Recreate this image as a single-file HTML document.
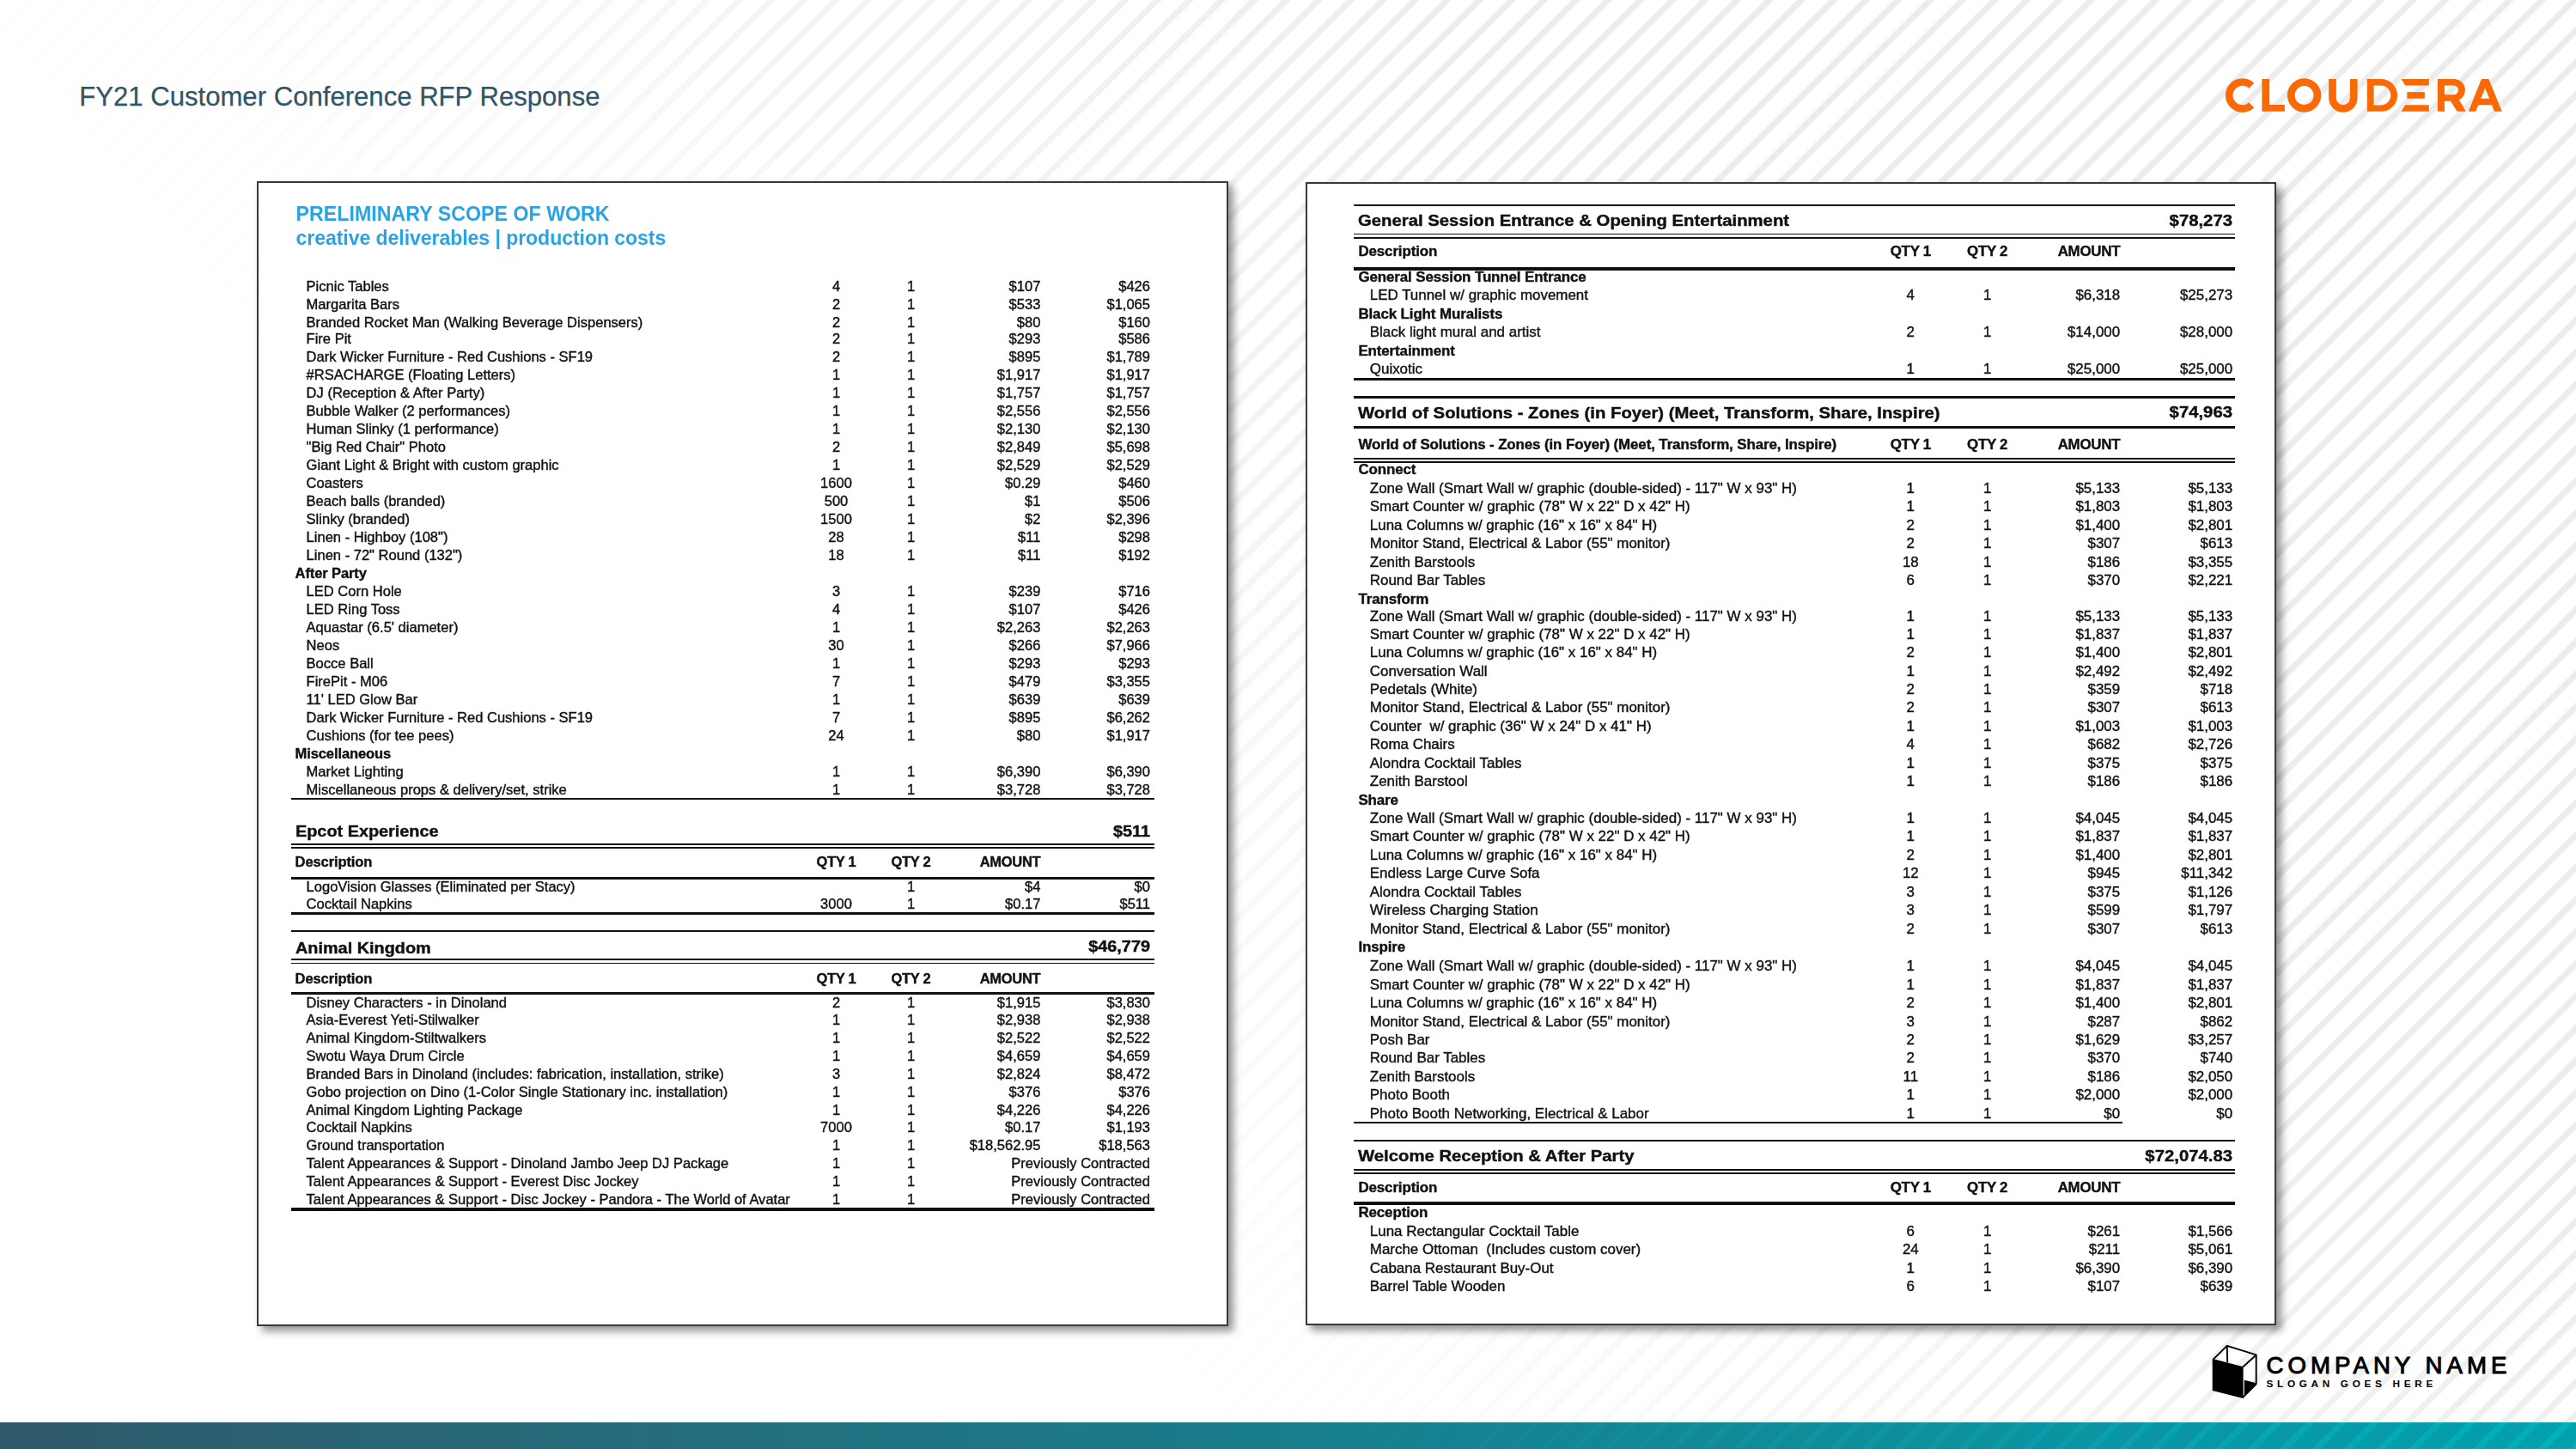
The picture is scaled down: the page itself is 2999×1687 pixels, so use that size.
<!DOCTYPE html>
<html><head><meta charset="utf-8"><title>FY21 Customer Conference RFP Response</title>
<style>
html,body{margin:0;padding:0;}
body{width:2999px;height:1687px;position:relative;overflow:hidden;background:#fff;font-family:"Liberation Sans",sans-serif;}
.stripes{position:absolute;left:0;top:0;width:2999px;height:1687px;
 background:repeating-linear-gradient(135deg,#ececec 0px,#ececec 1.5px,rgba(236,236,236,0) 3.3px,rgba(236,236,236,0) 20.9px,#ececec 22.7px,#ececec 26.503px);
 -webkit-mask-image:linear-gradient(48.4deg,transparent 31.5%,#000 72%);mask-image:linear-gradient(48.4deg,transparent 31.5%,#000 72%);}
.stripes.onbar{top:0;height:1687px;clip-path:inset(1656px 0 0 0);
 background:repeating-linear-gradient(135deg,rgba(0,255,255,.2) 0px,rgba(0,255,255,.2) 1.5px,rgba(0,255,255,0) 3.3px,rgba(0,255,255,0) 20.9px,rgba(0,255,255,.2) 22.7px,rgba(0,255,255,.2) 26.503px);}
.title{position:absolute;left:92.2px;top:94.6px;font-size:31.12px;line-height:36px;color:#2f5567;white-space:nowrap;-webkit-text-stroke:0.25px #2f5567;}
.bar{position:absolute;left:0;top:1656px;width:2999px;height:31px;background:linear-gradient(90deg,#305a6b 0%,#02a1ae 100%);}
.panel{position:absolute;background:#fff;border:2px solid #353944;box-shadow:6px 6px 9px rgba(0,0,0,.42);}
.inner{position:absolute;left:-2px;top:-2px;right:-2px;bottom:-2px;filter:blur(0.45px);}
.t{position:absolute;white-space:pre;color:#111;}
.pl .t{font-size:16.55px;line-height:21px;height:21px;}
.pr .t{font-size:16.95px;line-height:21.4px;height:21.4px;}
.t.r{width:400px;text-align:right;}
.t.c{width:200px;text-align:center;}
.t{-webkit-text-stroke:0.4px #111;}
.t.b{font-weight:700;letter-spacing:-0.12px;}
.t.b.c,.t.b.r{letter-spacing:-0.3px;}
.t.tt{font-weight:700;letter-spacing:0;transform:scaleX(1.128);transform-origin:0 50%;}
.t.tt.r{transform-origin:100% 50%;}
.pl .t.tt{font-size:17.6px;}
.pr .t.tt{font-size:18px;}
.ln{position:absolute;background:#111;}
.hd{position:absolute;font-weight:700;font-size:23.15px;line-height:26px;color:#2ba3e3;white-space:nowrap;letter-spacing:0.05px;}
</style></head>
<body>
<div class="stripes"></div>
<div class="title">FY21 Customer Conference RFP Response</div>
<svg style="position:absolute;left:2570px;top:70px" width="370" height="80" viewBox="0 0 2576 557">
<g fill="#f96a06">
<path d="M377.5 184.5 A138 138 0 1 0 377.5 386.5 L337 342.5 A78 78 0 1 1 337 228.5 Z"/>
<path d="M441.5 153 H502 V362.5 H625.5 V416.5 H441.5 Z"/>
<path fill-rule="evenodd" d="M784 148 A137 137 0 1 0 784.1 148 Z M784 208.5 A76.5 76.5 0 1 1 783.9 208.5 Z"/>
<path d="M982.5 153 H1043 V307 A56 56 0 0 0 1155 307 V153 H1215.5 V307 A116.5 116.5 0 0 1 982.5 307 Z"/>
<path fill-rule="evenodd" d="M1293.5 154 H1408 A131.25 131.25 0 0 1 1408 416.5 H1293.5 Z M1347.5 205.5 V365 H1405 A79.75 79.75 0 0 0 1405 205.5 Z"/>
<path d="M1571 154 H1795 V206 H1602.5 Z"/>
<path d="M1617.5 258.5 H1760.5 V311 H1617.5 Z"/>
<path d="M1602.5 363 H1795 V416.5 H1571 Z"/>
<path fill-rule="evenodd" d="M1865 154 H2000 A88.8 88.8 0 0 1 2040 322 L2094 416.5 H2024 L1970 331.6 H1921 V416.5 H1865 Z M1921 205 V280.5 H1995 A37.75 37.75 0 0 0 1995 205 Z"/>
<path fill-rule="evenodd" d="M2220.5 154 H2279.5 L2386.5 416.5 H2325.5 L2304.5 363 H2195.5 L2174.5 416.5 H2115.5 Z M2250 224.5 L2215.5 312 H2284.5 Z"/>
</g></svg>
<div class="panel pl" style="left:299px;top:211px;width:1127px;height:1329px"><div class="inner"><div class="hd" style="left:45.5px;top:24.7px">PRELIMINARY SCOPE OF WORK</div>
<div class="hd" style="left:45.5px;top:53.0px;letter-spacing:-0.1px">creative deliverables | production costs</div><div class="t n" style="left:57.6px;top:111.9px">Picnic Tables</div>
<div class="t n c" style="left:574.5px;top:111.9px">4</div>
<div class="t n c" style="left:661.5px;top:111.9px">1</div>
<div class="t n r" style="left:512.4px;top:111.9px">$107</div>
<div class="t n r" style="left:640.0px;top:111.9px">$426</div>
<div class="t n" style="left:57.6px;top:133.3px">Margarita Bars</div>
<div class="t n c" style="left:574.5px;top:133.3px">2</div>
<div class="t n c" style="left:661.5px;top:133.3px">1</div>
<div class="t n r" style="left:512.4px;top:133.3px">$533</div>
<div class="t n r" style="left:640.0px;top:133.3px">$1,065</div>
<div class="t n" style="left:57.6px;top:153.9px">Branded Rocket Man (Walking Beverage Dispensers)</div>
<div class="t n c" style="left:574.5px;top:153.9px">2</div>
<div class="t n c" style="left:661.5px;top:153.9px">1</div>
<div class="t n r" style="left:512.4px;top:153.9px">$80</div>
<div class="t n r" style="left:640.0px;top:153.9px">$160</div>
<div class="t n" style="left:57.6px;top:173.1px">Fire Pit</div>
<div class="t n c" style="left:574.5px;top:173.1px">2</div>
<div class="t n c" style="left:661.5px;top:173.1px">1</div>
<div class="t n r" style="left:512.4px;top:173.1px">$293</div>
<div class="t n r" style="left:640.0px;top:173.1px">$586</div>
<div class="t n" style="left:57.6px;top:194.0px">Dark Wicker Furniture - Red Cushions - SF19</div>
<div class="t n c" style="left:574.5px;top:194.0px">2</div>
<div class="t n c" style="left:661.5px;top:194.0px">1</div>
<div class="t n r" style="left:512.4px;top:194.0px">$895</div>
<div class="t n r" style="left:640.0px;top:194.0px">$1,789</div>
<div class="t n" style="left:57.6px;top:215.0px">#RSACHARGE (Floating Letters)</div>
<div class="t n c" style="left:574.5px;top:215.0px">1</div>
<div class="t n c" style="left:661.5px;top:215.0px">1</div>
<div class="t n r" style="left:512.4px;top:215.0px">$1,917</div>
<div class="t n r" style="left:640.0px;top:215.0px">$1,917</div>
<div class="t n" style="left:57.6px;top:236.0px">DJ (Reception &amp; After Party)</div>
<div class="t n c" style="left:574.5px;top:236.0px">1</div>
<div class="t n c" style="left:661.5px;top:236.0px">1</div>
<div class="t n r" style="left:512.4px;top:236.0px">$1,757</div>
<div class="t n r" style="left:640.0px;top:236.0px">$1,757</div>
<div class="t n" style="left:57.6px;top:257.0px">Bubble Walker (2 performances)</div>
<div class="t n c" style="left:574.5px;top:257.0px">1</div>
<div class="t n c" style="left:661.5px;top:257.0px">1</div>
<div class="t n r" style="left:512.4px;top:257.0px">$2,556</div>
<div class="t n r" style="left:640.0px;top:257.0px">$2,556</div>
<div class="t n" style="left:57.6px;top:278.0px">Human Slinky (1 performance)</div>
<div class="t n c" style="left:574.5px;top:278.0px">1</div>
<div class="t n c" style="left:661.5px;top:278.0px">1</div>
<div class="t n r" style="left:512.4px;top:278.0px">$2,130</div>
<div class="t n r" style="left:640.0px;top:278.0px">$2,130</div>
<div class="t n" style="left:57.6px;top:298.9px">"Big Red Chair" Photo</div>
<div class="t n c" style="left:574.5px;top:298.9px">2</div>
<div class="t n c" style="left:661.5px;top:298.9px">1</div>
<div class="t n r" style="left:512.4px;top:298.9px">$2,849</div>
<div class="t n r" style="left:640.0px;top:298.9px">$5,698</div>
<div class="t n" style="left:57.6px;top:319.9px">Giant Light &amp; Bright with custom graphic</div>
<div class="t n c" style="left:574.5px;top:319.9px">1</div>
<div class="t n c" style="left:661.5px;top:319.9px">1</div>
<div class="t n r" style="left:512.4px;top:319.9px">$2,529</div>
<div class="t n r" style="left:640.0px;top:319.9px">$2,529</div>
<div class="t n" style="left:57.6px;top:340.9px">Coasters</div>
<div class="t n c" style="left:574.5px;top:340.9px">1600</div>
<div class="t n c" style="left:661.5px;top:340.9px">1</div>
<div class="t n r" style="left:512.4px;top:340.9px">$0.29</div>
<div class="t n r" style="left:640.0px;top:340.9px">$460</div>
<div class="t n" style="left:57.6px;top:361.9px">Beach balls (branded)</div>
<div class="t n c" style="left:574.5px;top:361.9px">500</div>
<div class="t n c" style="left:661.5px;top:361.9px">1</div>
<div class="t n r" style="left:512.4px;top:361.9px">$1</div>
<div class="t n r" style="left:640.0px;top:361.9px">$506</div>
<div class="t n" style="left:57.6px;top:382.9px">Slinky (branded)</div>
<div class="t n c" style="left:574.5px;top:382.9px">1500</div>
<div class="t n c" style="left:661.5px;top:382.9px">1</div>
<div class="t n r" style="left:512.4px;top:382.9px">$2</div>
<div class="t n r" style="left:640.0px;top:382.9px">$2,396</div>
<div class="t n" style="left:57.6px;top:403.9px">Linen - Highboy (108")</div>
<div class="t n c" style="left:574.5px;top:403.9px">28</div>
<div class="t n c" style="left:661.5px;top:403.9px">1</div>
<div class="t n r" style="left:512.4px;top:403.9px">$11</div>
<div class="t n r" style="left:640.0px;top:403.9px">$298</div>
<div class="t n" style="left:57.6px;top:424.8px">Linen - 72" Round (132")</div>
<div class="t n c" style="left:574.5px;top:424.8px">18</div>
<div class="t n c" style="left:661.5px;top:424.8px">1</div>
<div class="t n r" style="left:512.4px;top:424.8px">$11</div>
<div class="t n r" style="left:640.0px;top:424.8px">$192</div>
<div class="t b" style="left:44.6px;top:446.1px">After Party</div>
<div class="t n" style="left:57.6px;top:467.1px">LED Corn Hole</div>
<div class="t n c" style="left:574.5px;top:467.1px">3</div>
<div class="t n c" style="left:661.5px;top:467.1px">1</div>
<div class="t n r" style="left:512.4px;top:467.1px">$239</div>
<div class="t n r" style="left:640.0px;top:467.1px">$716</div>
<div class="t n" style="left:57.6px;top:488.0px">LED Ring Toss</div>
<div class="t n c" style="left:574.5px;top:488.0px">4</div>
<div class="t n c" style="left:661.5px;top:488.0px">1</div>
<div class="t n r" style="left:512.4px;top:488.0px">$107</div>
<div class="t n r" style="left:640.0px;top:488.0px">$426</div>
<div class="t n" style="left:57.6px;top:509.0px">Aquastar (6.5' diameter)</div>
<div class="t n c" style="left:574.5px;top:509.0px">1</div>
<div class="t n c" style="left:661.5px;top:509.0px">1</div>
<div class="t n r" style="left:512.4px;top:509.0px">$2,263</div>
<div class="t n r" style="left:640.0px;top:509.0px">$2,263</div>
<div class="t n" style="left:57.6px;top:530.0px">Neos</div>
<div class="t n c" style="left:574.5px;top:530.0px">30</div>
<div class="t n c" style="left:661.5px;top:530.0px">1</div>
<div class="t n r" style="left:512.4px;top:530.0px">$266</div>
<div class="t n r" style="left:640.0px;top:530.0px">$7,966</div>
<div class="t n" style="left:57.6px;top:551.0px">Bocce Ball</div>
<div class="t n c" style="left:574.5px;top:551.0px">1</div>
<div class="t n c" style="left:661.5px;top:551.0px">1</div>
<div class="t n r" style="left:512.4px;top:551.0px">$293</div>
<div class="t n r" style="left:640.0px;top:551.0px">$293</div>
<div class="t n" style="left:57.6px;top:572.0px">FirePit - M06</div>
<div class="t n c" style="left:574.5px;top:572.0px">7</div>
<div class="t n c" style="left:661.5px;top:572.0px">1</div>
<div class="t n r" style="left:512.4px;top:572.0px">$479</div>
<div class="t n r" style="left:640.0px;top:572.0px">$3,355</div>
<div class="t n" style="left:57.6px;top:593.0px">11' LED Glow Bar</div>
<div class="t n c" style="left:574.5px;top:593.0px">1</div>
<div class="t n c" style="left:661.5px;top:593.0px">1</div>
<div class="t n r" style="left:512.4px;top:593.0px">$639</div>
<div class="t n r" style="left:640.0px;top:593.0px">$639</div>
<div class="t n" style="left:57.6px;top:613.9px">Dark Wicker Furniture - Red Cushions - SF19</div>
<div class="t n c" style="left:574.5px;top:613.9px">7</div>
<div class="t n c" style="left:661.5px;top:613.9px">1</div>
<div class="t n r" style="left:512.4px;top:613.9px">$895</div>
<div class="t n r" style="left:640.0px;top:613.9px">$6,262</div>
<div class="t n" style="left:57.6px;top:634.9px">Cushions (for tee pees)</div>
<div class="t n c" style="left:574.5px;top:634.9px">24</div>
<div class="t n c" style="left:661.5px;top:634.9px">1</div>
<div class="t n r" style="left:512.4px;top:634.9px">$80</div>
<div class="t n r" style="left:640.0px;top:634.9px">$1,917</div>
<div class="t b" style="left:44.6px;top:655.9px">Miscellaneous</div>
<div class="t n" style="left:57.6px;top:676.9px">Market Lighting</div>
<div class="t n c" style="left:574.5px;top:676.9px">1</div>
<div class="t n c" style="left:661.5px;top:676.9px">1</div>
<div class="t n r" style="left:512.4px;top:676.9px">$6,390</div>
<div class="t n r" style="left:640.0px;top:676.9px">$6,390</div>
<div class="t n" style="left:57.6px;top:697.9px">Miscellaneous props &amp; delivery/set, strike</div>
<div class="t n c" style="left:574.5px;top:697.9px">1</div>
<div class="t n c" style="left:661.5px;top:697.9px">1</div>
<div class="t n r" style="left:512.4px;top:697.9px">$3,728</div>
<div class="t n r" style="left:640.0px;top:697.9px">$3,728</div>
<div class="ln" style="left:40.0px;top:718.2px;width:1004.6px;height:1.9px"></div>
<div class="t tt" style="left:44.6px;top:747.4px">Epcot Experience</div>
<div class="t tt r" style="left:640.0px;top:747.4px">$511</div>
<div class="ln" style="left:40.0px;top:771.3px;width:1004.6px;height:1.9px"></div>
<div class="ln" style="left:40.0px;top:775.3px;width:1004.6px;height:1.9px"></div>
<div class="t b" style="left:44.6px;top:781.8px">Description</div>
<div class="t b c" style="left:574.5px;top:781.8px">QTY 1</div>
<div class="t b c" style="left:661.5px;top:781.8px">QTY 2</div>
<div class="t b r" style="left:512.4px;top:781.8px">AMOUNT</div>
<div class="ln" style="left:40.0px;top:809.9px;width:1004.6px;height:3.4px"></div>
<div class="t n" style="left:57.6px;top:810.8px">LogoVision Glasses (Eliminated per Stacy)</div>
<div class="t n c" style="left:661.5px;top:810.8px">1</div>
<div class="t n r" style="left:512.4px;top:810.8px">$4</div>
<div class="t n r" style="left:640.0px;top:810.8px">$0</div>
<div class="t n" style="left:57.6px;top:831.3px">Cocktail Napkins</div>
<div class="t n c" style="left:574.5px;top:831.3px">3000</div>
<div class="t n c" style="left:661.5px;top:831.3px">1</div>
<div class="t n r" style="left:512.4px;top:831.3px">$0.17</div>
<div class="t n r" style="left:640.0px;top:831.3px">$511</div>
<div class="ln" style="left:40.0px;top:850.7px;width:1004.6px;height:3.0px"></div>
<div class="ln" style="left:40.0px;top:872.3px;width:1004.6px;height:1.9px"></div>
<div class="t tt" style="left:44.6px;top:882.5px">Animal Kingdom</div>
<div class="t tt r" style="left:640.0px;top:881.2px">$46,779</div>
<div class="ln" style="left:40.0px;top:905.0px;width:1004.6px;height:1.9px"></div>
<div class="ln" style="left:40.0px;top:909.5px;width:1004.6px;height:1.9px"></div>
<div class="t b" style="left:44.6px;top:917.8px">Description</div>
<div class="t b c" style="left:574.5px;top:917.8px">QTY 1</div>
<div class="t b c" style="left:661.5px;top:917.8px">QTY 2</div>
<div class="t b r" style="left:512.4px;top:917.8px">AMOUNT</div>
<div class="ln" style="left:40.0px;top:943.6px;width:1004.6px;height:3.4px"></div>
<div class="t n" style="left:57.6px;top:945.9px">Disney Characters - in Dinoland</div>
<div class="t n c" style="left:574.5px;top:945.9px">2</div>
<div class="t n c" style="left:661.5px;top:945.9px">1</div>
<div class="t n r" style="left:512.4px;top:945.9px">$1,915</div>
<div class="t n r" style="left:640.0px;top:945.9px">$3,830</div>
<div class="t n" style="left:57.6px;top:965.5px">Asia-Everest Yeti-Stilwalker</div>
<div class="t n c" style="left:574.5px;top:965.5px">1</div>
<div class="t n c" style="left:661.5px;top:965.5px">1</div>
<div class="t n r" style="left:512.4px;top:965.5px">$2,938</div>
<div class="t n r" style="left:640.0px;top:965.5px">$2,938</div>
<div class="t n" style="left:57.6px;top:986.5px">Animal Kingdom-Stiltwalkers</div>
<div class="t n c" style="left:574.5px;top:986.5px">1</div>
<div class="t n c" style="left:661.5px;top:986.5px">1</div>
<div class="t n r" style="left:512.4px;top:986.5px">$2,522</div>
<div class="t n r" style="left:640.0px;top:986.5px">$2,522</div>
<div class="t n" style="left:57.6px;top:1007.5px">Swotu Waya Drum Circle</div>
<div class="t n c" style="left:574.5px;top:1007.5px">1</div>
<div class="t n c" style="left:661.5px;top:1007.5px">1</div>
<div class="t n r" style="left:512.4px;top:1007.5px">$4,659</div>
<div class="t n r" style="left:640.0px;top:1007.5px">$4,659</div>
<div class="t n" style="left:57.6px;top:1028.5px">Branded Bars in Dinoland (includes: fabrication, installation, strike)</div>
<div class="t n c" style="left:574.5px;top:1028.5px">3</div>
<div class="t n c" style="left:661.5px;top:1028.5px">1</div>
<div class="t n r" style="left:512.4px;top:1028.5px">$2,824</div>
<div class="t n r" style="left:640.0px;top:1028.5px">$8,472</div>
<div class="t n" style="left:57.6px;top:1049.5px">Gobo projection on Dino (1-Color Single Stationary inc. installation)</div>
<div class="t n c" style="left:574.5px;top:1049.5px">1</div>
<div class="t n c" style="left:661.5px;top:1049.5px">1</div>
<div class="t n r" style="left:512.4px;top:1049.5px">$376</div>
<div class="t n r" style="left:640.0px;top:1049.5px">$376</div>
<div class="t n" style="left:57.6px;top:1070.5px">Animal Kingdom Lighting Package</div>
<div class="t n c" style="left:574.5px;top:1070.5px">1</div>
<div class="t n c" style="left:661.5px;top:1070.5px">1</div>
<div class="t n r" style="left:512.4px;top:1070.5px">$4,226</div>
<div class="t n r" style="left:640.0px;top:1070.5px">$4,226</div>
<div class="t n" style="left:57.6px;top:1091.4px">Cocktail Napkins</div>
<div class="t n c" style="left:574.5px;top:1091.4px">7000</div>
<div class="t n c" style="left:661.5px;top:1091.4px">1</div>
<div class="t n r" style="left:512.4px;top:1091.4px">$0.17</div>
<div class="t n r" style="left:640.0px;top:1091.4px">$1,193</div>
<div class="t n" style="left:57.6px;top:1112.4px">Ground transportation</div>
<div class="t n c" style="left:574.5px;top:1112.4px">1</div>
<div class="t n c" style="left:661.5px;top:1112.4px">1</div>
<div class="t n r" style="left:512.4px;top:1112.4px">$18,562.95</div>
<div class="t n r" style="left:640.0px;top:1112.4px">$18,563</div>
<div class="t n" style="left:57.6px;top:1133.4px">Talent Appearances &amp; Support - Dinoland Jambo Jeep DJ Package</div>
<div class="t n c" style="left:574.5px;top:1133.4px">1</div>
<div class="t n c" style="left:661.5px;top:1133.4px">1</div>
<div class="t n r" style="left:640.0px;top:1133.4px">Previously Contracted</div>
<div class="t n" style="left:57.6px;top:1154.4px">Talent Appearances &amp; Support - Everest Disc Jockey</div>
<div class="t n c" style="left:574.5px;top:1154.4px">1</div>
<div class="t n c" style="left:661.5px;top:1154.4px">1</div>
<div class="t n r" style="left:640.0px;top:1154.4px">Previously Contracted</div>
<div class="t n" style="left:57.6px;top:1175.3px">Talent Appearances &amp; Support - Disc Jockey - Pandora - The World of Avatar</div>
<div class="t n c" style="left:574.5px;top:1175.3px">1</div>
<div class="t n c" style="left:661.5px;top:1175.3px">1</div>
<div class="t n r" style="left:640.0px;top:1175.3px">Previously Contracted</div>
<div class="ln" style="left:40.0px;top:1195.4px;width:1004.6px;height:3.4px"></div></div></div>
<div class="panel pr" style="left:1520px;top:212px;width:1126px;height:1327px"><div class="inner"><div class="ln" style="left:56.2px;top:26.3px;width:1026.3px;height:2.0px"></div>
<div class="t tt" style="left:61.4px;top:35.0px">General Session Entrance &amp; Opening Entertainment</div>
<div class="t tt r" style="left:679.2px;top:35.0px">$78,273</div>
<div class="ln" style="left:56.2px;top:59.6px;width:1026.3px;height:1.9px"></div>
<div class="ln" style="left:56.2px;top:63.9px;width:1026.3px;height:1.9px"></div>
<div class="t b" style="left:61.4px;top:70.4px">Description</div>
<div class="t b c" style="left:604.3px;top:70.4px">QTY 1</div>
<div class="t b c" style="left:693.6px;top:70.4px">QTY 2</div>
<div class="t b r" style="left:548.2px;top:70.4px">AMOUNT</div>
<div class="ln" style="left:56.2px;top:99.4px;width:1026.3px;height:3.4px"></div>
<div class="t b" style="left:61.4px;top:99.9px">General Session Tunnel Entrance</div>
<div class="t n" style="left:74.8px;top:121.3px">LED Tunnel w/ graphic movement</div>
<div class="t n c" style="left:604.3px;top:121.3px">4</div>
<div class="t n c" style="left:693.6px;top:121.3px">1</div>
<div class="t n r" style="left:548.2px;top:121.3px">$6,318</div>
<div class="t n r" style="left:679.2px;top:121.3px">$25,273</div>
<div class="t b" style="left:61.4px;top:142.7px">Black Light Muralists</div>
<div class="t n" style="left:74.8px;top:164.2px">Black light mural and artist</div>
<div class="t n c" style="left:604.3px;top:164.2px">2</div>
<div class="t n c" style="left:693.6px;top:164.2px">1</div>
<div class="t n r" style="left:548.2px;top:164.2px">$14,000</div>
<div class="t n r" style="left:679.2px;top:164.2px">$28,000</div>
<div class="t b" style="left:61.4px;top:185.6px">Entertainment</div>
<div class="t n" style="left:74.8px;top:207.0px">Quixotic</div>
<div class="t n c" style="left:604.3px;top:207.0px">1</div>
<div class="t n c" style="left:693.6px;top:207.0px">1</div>
<div class="t n r" style="left:548.2px;top:207.0px">$25,000</div>
<div class="t n r" style="left:679.2px;top:207.0px">$25,000</div>
<div class="ln" style="left:56.2px;top:228.0px;width:1026.3px;height:3.0px"></div>
<div class="ln" style="left:56.2px;top:249.0px;width:1026.3px;height:3.0px"></div>
<div class="t tt" style="left:61.4px;top:259.0px">World of Solutions - Zones (in Foyer) (Meet, Transform, Share, Inspire)</div>
<div class="t tt r" style="left:679.2px;top:257.7px">$74,963</div>
<div class="ln" style="left:56.2px;top:284.3px;width:1026.3px;height:3.0px"></div>
<div class="t b" style="left:61.4px;top:295.0px">World of Solutions - Zones (in Foyer) (Meet, Transform, Share, Inspire)</div>
<div class="t b c" style="left:604.3px;top:295.0px">QTY 1</div>
<div class="t b c" style="left:693.6px;top:295.0px">QTY 2</div>
<div class="t b r" style="left:548.2px;top:295.0px">AMOUNT</div>
<div class="ln" style="left:56.2px;top:321.4px;width:1026.3px;height:1.9px"></div>
<div class="ln" style="left:56.2px;top:325.4px;width:1026.3px;height:1.9px"></div>
<div class="t b" style="left:61.4px;top:324.4px">Connect</div>
<div class="t n" style="left:74.8px;top:345.9px">Zone Wall (Smart Wall w/ graphic (double-sided) - 117" W x 93" H)</div>
<div class="t n c" style="left:604.3px;top:345.9px">1</div>
<div class="t n c" style="left:693.6px;top:345.9px">1</div>
<div class="t n r" style="left:548.2px;top:345.9px">$5,133</div>
<div class="t n r" style="left:679.2px;top:345.9px">$5,133</div>
<div class="t n" style="left:74.8px;top:367.3px">Smart Counter w/ graphic (78" W x 22" D x 42" H)</div>
<div class="t n c" style="left:604.3px;top:367.3px">1</div>
<div class="t n c" style="left:693.6px;top:367.3px">1</div>
<div class="t n r" style="left:548.2px;top:367.3px">$1,803</div>
<div class="t n r" style="left:679.2px;top:367.3px">$1,803</div>
<div class="t n" style="left:74.8px;top:388.7px">Luna Columns w/ graphic (16" x 16" x 84" H)</div>
<div class="t n c" style="left:604.3px;top:388.7px">2</div>
<div class="t n c" style="left:693.6px;top:388.7px">1</div>
<div class="t n r" style="left:548.2px;top:388.7px">$1,400</div>
<div class="t n r" style="left:679.2px;top:388.7px">$2,801</div>
<div class="t n" style="left:74.8px;top:410.1px">Monitor Stand, Electrical &amp; Labor (55" monitor)</div>
<div class="t n c" style="left:604.3px;top:410.1px">2</div>
<div class="t n c" style="left:693.6px;top:410.1px">1</div>
<div class="t n r" style="left:548.2px;top:410.1px">$307</div>
<div class="t n r" style="left:679.2px;top:410.1px">$613</div>
<div class="t n" style="left:74.8px;top:431.5px">Zenith Barstools</div>
<div class="t n c" style="left:604.3px;top:431.5px">18</div>
<div class="t n c" style="left:693.6px;top:431.5px">1</div>
<div class="t n r" style="left:548.2px;top:431.5px">$186</div>
<div class="t n r" style="left:679.2px;top:431.5px">$3,355</div>
<div class="t n" style="left:74.8px;top:453.3px">Round Bar Tables</div>
<div class="t n c" style="left:604.3px;top:453.3px">6</div>
<div class="t n c" style="left:693.6px;top:453.3px">1</div>
<div class="t n r" style="left:548.2px;top:453.3px">$370</div>
<div class="t n r" style="left:679.2px;top:453.3px">$2,221</div>
<div class="t b" style="left:61.4px;top:474.7px">Transform</div>
<div class="t n" style="left:74.8px;top:494.8px">Zone Wall (Smart Wall w/ graphic (double-sided) - 117" W x 93" H)</div>
<div class="t n c" style="left:604.3px;top:494.8px">1</div>
<div class="t n c" style="left:693.6px;top:494.8px">1</div>
<div class="t n r" style="left:548.2px;top:494.8px">$5,133</div>
<div class="t n r" style="left:679.2px;top:494.8px">$5,133</div>
<div class="t n" style="left:74.8px;top:515.8px">Smart Counter w/ graphic (78" W x 22" D x 42" H)</div>
<div class="t n c" style="left:604.3px;top:515.8px">1</div>
<div class="t n c" style="left:693.6px;top:515.8px">1</div>
<div class="t n r" style="left:548.2px;top:515.8px">$1,837</div>
<div class="t n r" style="left:679.2px;top:515.8px">$1,837</div>
<div class="t n" style="left:74.8px;top:537.2px">Luna Columns w/ graphic (16" x 16" x 84" H)</div>
<div class="t n c" style="left:604.3px;top:537.2px">2</div>
<div class="t n c" style="left:693.6px;top:537.2px">1</div>
<div class="t n r" style="left:548.2px;top:537.2px">$1,400</div>
<div class="t n r" style="left:679.2px;top:537.2px">$2,801</div>
<div class="t n" style="left:74.8px;top:558.6px">Conversation Wall</div>
<div class="t n c" style="left:604.3px;top:558.6px">1</div>
<div class="t n c" style="left:693.6px;top:558.6px">1</div>
<div class="t n r" style="left:548.2px;top:558.6px">$2,492</div>
<div class="t n r" style="left:679.2px;top:558.6px">$2,492</div>
<div class="t n" style="left:74.8px;top:579.6px">Pedetals (White)</div>
<div class="t n c" style="left:604.3px;top:579.6px">2</div>
<div class="t n c" style="left:693.6px;top:579.6px">1</div>
<div class="t n r" style="left:548.2px;top:579.6px">$359</div>
<div class="t n r" style="left:679.2px;top:579.6px">$718</div>
<div class="t n" style="left:74.8px;top:601.0px">Monitor Stand, Electrical &amp; Labor (55" monitor)</div>
<div class="t n c" style="left:604.3px;top:601.0px">2</div>
<div class="t n c" style="left:693.6px;top:601.0px">1</div>
<div class="t n r" style="left:548.2px;top:601.0px">$307</div>
<div class="t n r" style="left:679.2px;top:601.0px">$613</div>
<div class="t n" style="left:74.8px;top:622.9px">Counter  w/ graphic (36" W x 24" D x 41" H)</div>
<div class="t n c" style="left:604.3px;top:622.9px">1</div>
<div class="t n c" style="left:693.6px;top:622.9px">1</div>
<div class="t n r" style="left:548.2px;top:622.9px">$1,003</div>
<div class="t n r" style="left:679.2px;top:622.9px">$1,003</div>
<div class="t n" style="left:74.8px;top:644.3px">Roma Chairs</div>
<div class="t n c" style="left:604.3px;top:644.3px">4</div>
<div class="t n c" style="left:693.6px;top:644.3px">1</div>
<div class="t n r" style="left:548.2px;top:644.3px">$682</div>
<div class="t n r" style="left:679.2px;top:644.3px">$2,726</div>
<div class="t n" style="left:74.8px;top:665.8px">Alondra Cocktail Tables</div>
<div class="t n c" style="left:604.3px;top:665.8px">1</div>
<div class="t n c" style="left:693.6px;top:665.8px">1</div>
<div class="t n r" style="left:548.2px;top:665.8px">$375</div>
<div class="t n r" style="left:679.2px;top:665.8px">$375</div>
<div class="t n" style="left:74.8px;top:687.2px">Zenith Barstool</div>
<div class="t n c" style="left:604.3px;top:687.2px">1</div>
<div class="t n c" style="left:693.6px;top:687.2px">1</div>
<div class="t n r" style="left:548.2px;top:687.2px">$186</div>
<div class="t n r" style="left:679.2px;top:687.2px">$186</div>
<div class="t b" style="left:61.4px;top:708.6px">Share</div>
<div class="t n" style="left:74.8px;top:729.6px">Zone Wall (Smart Wall w/ graphic (double-sided) - 117" W x 93" H)</div>
<div class="t n c" style="left:604.3px;top:729.6px">1</div>
<div class="t n c" style="left:693.6px;top:729.6px">1</div>
<div class="t n r" style="left:548.2px;top:729.6px">$4,045</div>
<div class="t n r" style="left:679.2px;top:729.6px">$4,045</div>
<div class="t n" style="left:74.8px;top:751.0px">Smart Counter w/ graphic (78" W x 22" D x 42" H)</div>
<div class="t n c" style="left:604.3px;top:751.0px">1</div>
<div class="t n c" style="left:693.6px;top:751.0px">1</div>
<div class="t n r" style="left:548.2px;top:751.0px">$1,837</div>
<div class="t n r" style="left:679.2px;top:751.0px">$1,837</div>
<div class="t n" style="left:74.8px;top:772.9px">Luna Columns w/ graphic (16" x 16" x 84" H)</div>
<div class="t n c" style="left:604.3px;top:772.9px">2</div>
<div class="t n c" style="left:693.6px;top:772.9px">1</div>
<div class="t n r" style="left:548.2px;top:772.9px">$1,400</div>
<div class="t n r" style="left:679.2px;top:772.9px">$2,801</div>
<div class="t n" style="left:74.8px;top:794.3px">Endless Large Curve Sofa</div>
<div class="t n c" style="left:604.3px;top:794.3px">12</div>
<div class="t n c" style="left:693.6px;top:794.3px">1</div>
<div class="t n r" style="left:548.2px;top:794.3px">$945</div>
<div class="t n r" style="left:679.2px;top:794.3px">$11,342</div>
<div class="t n" style="left:74.8px;top:815.8px">Alondra Cocktail Tables</div>
<div class="t n c" style="left:604.3px;top:815.8px">3</div>
<div class="t n c" style="left:693.6px;top:815.8px">1</div>
<div class="t n r" style="left:548.2px;top:815.8px">$375</div>
<div class="t n r" style="left:679.2px;top:815.8px">$1,126</div>
<div class="t n" style="left:74.8px;top:837.2px">Wireless Charging Station</div>
<div class="t n c" style="left:604.3px;top:837.2px">3</div>
<div class="t n c" style="left:693.6px;top:837.2px">1</div>
<div class="t n r" style="left:548.2px;top:837.2px">$599</div>
<div class="t n r" style="left:679.2px;top:837.2px">$1,797</div>
<div class="t n" style="left:74.8px;top:858.6px">Monitor Stand, Electrical &amp; Labor (55" monitor)</div>
<div class="t n c" style="left:604.3px;top:858.6px">2</div>
<div class="t n c" style="left:693.6px;top:858.6px">1</div>
<div class="t n r" style="left:548.2px;top:858.6px">$307</div>
<div class="t n r" style="left:679.2px;top:858.6px">$613</div>
<div class="t b" style="left:61.4px;top:880.3px">Inspire</div>
<div class="t n" style="left:74.8px;top:902.2px">Zone Wall (Smart Wall w/ graphic (double-sided) - 117" W x 93" H)</div>
<div class="t n c" style="left:604.3px;top:902.2px">1</div>
<div class="t n c" style="left:693.6px;top:902.2px">1</div>
<div class="t n r" style="left:548.2px;top:902.2px">$4,045</div>
<div class="t n r" style="left:679.2px;top:902.2px">$4,045</div>
<div class="t n" style="left:74.8px;top:923.6px">Smart Counter w/ graphic (78" W x 22" D x 42" H)</div>
<div class="t n c" style="left:604.3px;top:923.6px">1</div>
<div class="t n c" style="left:693.6px;top:923.6px">1</div>
<div class="t n r" style="left:548.2px;top:923.6px">$1,837</div>
<div class="t n r" style="left:679.2px;top:923.6px">$1,837</div>
<div class="t n" style="left:74.8px;top:944.6px">Luna Columns w/ graphic (16" x 16" x 84" H)</div>
<div class="t n c" style="left:604.3px;top:944.6px">2</div>
<div class="t n c" style="left:693.6px;top:944.6px">1</div>
<div class="t n r" style="left:548.2px;top:944.6px">$1,400</div>
<div class="t n r" style="left:679.2px;top:944.6px">$2,801</div>
<div class="t n" style="left:74.8px;top:966.5px">Monitor Stand, Electrical &amp; Labor (55" monitor)</div>
<div class="t n c" style="left:604.3px;top:966.5px">3</div>
<div class="t n c" style="left:693.6px;top:966.5px">1</div>
<div class="t n r" style="left:548.2px;top:966.5px">$287</div>
<div class="t n r" style="left:679.2px;top:966.5px">$862</div>
<div class="t n" style="left:74.8px;top:987.9px">Posh Bar</div>
<div class="t n c" style="left:604.3px;top:987.9px">2</div>
<div class="t n c" style="left:693.6px;top:987.9px">1</div>
<div class="t n r" style="left:548.2px;top:987.9px">$1,629</div>
<div class="t n r" style="left:679.2px;top:987.9px">$3,257</div>
<div class="t n" style="left:74.8px;top:1009.3px">Round Bar Tables</div>
<div class="t n c" style="left:604.3px;top:1009.3px">2</div>
<div class="t n c" style="left:693.6px;top:1009.3px">1</div>
<div class="t n r" style="left:548.2px;top:1009.3px">$370</div>
<div class="t n r" style="left:679.2px;top:1009.3px">$740</div>
<div class="t n" style="left:74.8px;top:1030.8px">Zenith Barstools</div>
<div class="t n c" style="left:604.3px;top:1030.8px">11</div>
<div class="t n c" style="left:693.6px;top:1030.8px">1</div>
<div class="t n r" style="left:548.2px;top:1030.8px">$186</div>
<div class="t n r" style="left:679.2px;top:1030.8px">$2,050</div>
<div class="t n" style="left:74.8px;top:1052.2px">Photo Booth</div>
<div class="t n c" style="left:604.3px;top:1052.2px">1</div>
<div class="t n c" style="left:693.6px;top:1052.2px">1</div>
<div class="t n r" style="left:548.2px;top:1052.2px">$2,000</div>
<div class="t n r" style="left:679.2px;top:1052.2px">$2,000</div>
<div class="t n" style="left:74.8px;top:1073.6px">Photo Booth Networking, Electrical &amp; Labor</div>
<div class="t n c" style="left:604.3px;top:1073.6px">1</div>
<div class="t n c" style="left:693.6px;top:1073.6px">1</div>
<div class="t n r" style="left:548.2px;top:1073.6px">$0</div>
<div class="t n r" style="left:679.2px;top:1073.6px">$0</div>
<div class="ln" style="left:56.2px;top:1094.2px;width:894.8px;height:1.9px"></div>
<div class="ln" style="left:56.2px;top:1115.2px;width:1026.3px;height:1.9px"></div>
<div class="t tt" style="left:61.4px;top:1124.0px">Welcome Reception &amp; After Party</div>
<div class="t tt r" style="left:679.2px;top:1124.0px">$72,074.83</div>
<div class="ln" style="left:56.2px;top:1148.8px;width:1026.3px;height:1.9px"></div>
<div class="ln" style="left:56.2px;top:1152.8px;width:1026.3px;height:1.9px"></div>
<div class="t b" style="left:61.4px;top:1159.8px">Description</div>
<div class="t b c" style="left:604.3px;top:1159.8px">QTY 1</div>
<div class="t b c" style="left:693.6px;top:1159.8px">QTY 2</div>
<div class="t b r" style="left:548.2px;top:1159.8px">AMOUNT</div>
<div class="ln" style="left:56.2px;top:1187.3px;width:1026.3px;height:3.4px"></div>
<div class="t b" style="left:61.4px;top:1188.8px">Reception</div>
<div class="t n" style="left:74.8px;top:1210.7px">Luna Rectangular Cocktail Table</div>
<div class="t n c" style="left:604.3px;top:1210.7px">6</div>
<div class="t n c" style="left:693.6px;top:1210.7px">1</div>
<div class="t n r" style="left:548.2px;top:1210.7px">$261</div>
<div class="t n r" style="left:679.2px;top:1210.7px">$1,566</div>
<div class="t n" style="left:74.8px;top:1232.1px">Marche Ottoman  (Includes custom cover)</div>
<div class="t n c" style="left:604.3px;top:1232.1px">24</div>
<div class="t n c" style="left:693.6px;top:1232.1px">1</div>
<div class="t n r" style="left:548.2px;top:1232.1px">$211</div>
<div class="t n r" style="left:679.2px;top:1232.1px">$5,061</div>
<div class="t n" style="left:74.8px;top:1253.5px">Cabana Restaurant Buy-Out</div>
<div class="t n c" style="left:604.3px;top:1253.5px">1</div>
<div class="t n c" style="left:693.6px;top:1253.5px">1</div>
<div class="t n r" style="left:548.2px;top:1253.5px">$6,390</div>
<div class="t n r" style="left:679.2px;top:1253.5px">$6,390</div>
<div class="t n" style="left:74.8px;top:1275.0px">Barrel Table Wooden</div>
<div class="t n c" style="left:604.3px;top:1275.0px">6</div>
<div class="t n c" style="left:693.6px;top:1275.0px">1</div>
<div class="t n r" style="left:548.2px;top:1275.0px">$107</div>
<div class="t n r" style="left:679.2px;top:1275.0px">$639</div></div></div>
<svg style="position:absolute;left:2560px;top:1555px" width="380" height="85" viewBox="0 0 2576 576">
<g stroke="#000" stroke-width="13" stroke-linejoin="miter" fill="none">
<polygon points="113,187 222,80 452,152 452,382 347,488 113,428" />
<polyline points="222,80 225,212"/>
<polyline points="347,247 452,152"/>
</g>
<polygon points="110,183 350,245 350,492 110,432" fill="#000"/>
<polygon points="358,350 447,372 447,384 358,480" fill="#000"/>
</svg>
<div class="cn" style="position:absolute;left:2638.5px;top:1575px;font-size:27.6px;line-height:30px;font-weight:400;-webkit-text-stroke:1.05px #000;letter-spacing:5.05px;color:#000;white-space:nowrap">COMPANY NAME</div>
<div class="sl" style="position:absolute;left:2638.5px;top:1603.5px;font-size:11.8px;line-height:14px;font-weight:700;letter-spacing:4.66px;color:#000;white-space:nowrap">SLOGAN GOES HERE</div>
<div class="bar"></div>
<div class="stripes onbar"></div>
</body></html>
